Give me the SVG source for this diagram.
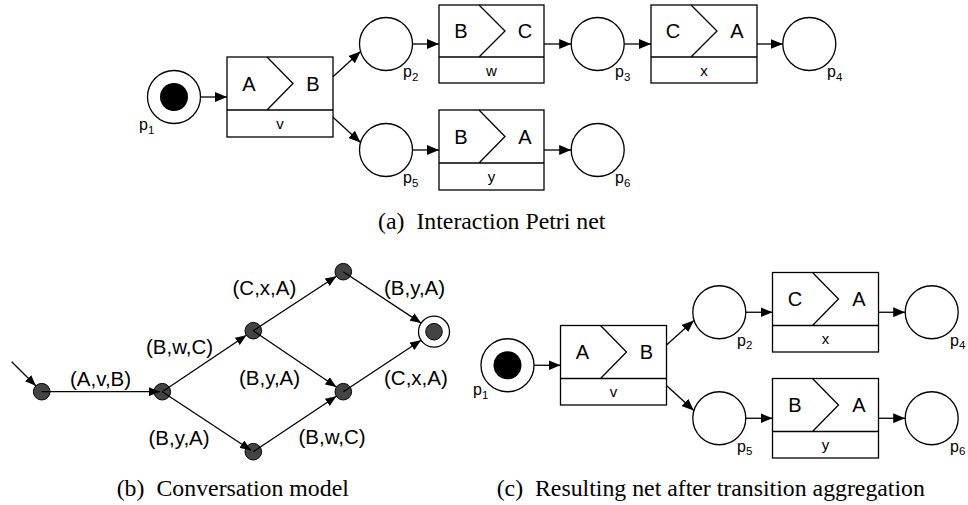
<svg xmlns="http://www.w3.org/2000/svg" width="968" height="505" viewBox="0 0 968 505">
<defs>
<marker id="ah" markerUnits="userSpaceOnUse" markerWidth="12" markerHeight="10" viewBox="0 0 11 9" refX="11" refY="4.5" orient="auto"><path d="M0,0 L11,4.5 L0,9 z" fill="#000"/></marker>
<marker id="ahb" markerUnits="userSpaceOnUse" markerWidth="11" markerHeight="9" viewBox="0 0 10 8" refX="10" refY="4" orient="auto"><path d="M0,0 L10,4 L0,8 z" fill="#000"/></marker>
</defs>
<style>
.ln{stroke:#000;stroke-width:1.3;fill:none;marker-end:url(#ah)}
.lb{stroke:#000;stroke-width:1.3;fill:none;marker-end:url(#ahb)}
.pl{fill:#fff;stroke:#000;stroke-width:1.3}
.tk{fill:#000}
.bx{fill:#fff;stroke:#000;stroke-width:1.3}
.sl{fill:none;stroke:#000;stroke-width:1.3}
.big{font-family:"Liberation Sans",Arial,sans-serif;font-size:20px;text-anchor:middle;fill:#000}
.sm{font-family:"Liberation Sans",Arial,sans-serif;font-size:15px;text-anchor:middle;fill:#000}
.pt{font-family:"Liberation Sans",Arial,sans-serif;font-size:16px;fill:#000}
.sub{font-size:11.5px}
.el{font-family:"Liberation Sans",Arial,sans-serif;font-size:20.5px;fill:#000}
.st{fill:#444;stroke:#000;stroke-width:1}
.fo{fill:#fff;stroke:#000;stroke-width:1.3}
.cap{font-family:"Liberation Serif","Times New Roman",serif;font-size:23.8px;fill:#000}
</style>

<!-- (a) Interaction Petri net -->
<g id="a_p1"><circle class="pl" cx="174" cy="97" r="26.5"/><circle class="tk" cx="174" cy="97" r="14"/><text class="pt" x="139" y="130">p<tspan class="sub" dy="3.5">1</tspan></text></g>
<g id="a_v"><rect class="bx" x="227" y="57" width="106" height="80"/><path class="sl" d="M227,110 H333 M267,57 L293,83.5 L267,110"/><text class="big" x="249" y="91">A</text><text class="big" x="313" y="91">B</text><text class="sm" x="280" y="128.5">v</text></g>
<g id="a_p2"><circle class="pl" cx="386" cy="44" r="26.5"/><text class="pt" x="403" y="77">p<tspan class="sub" dy="3.5">2</tspan></text></g>
<g id="a_p5"><circle class="pl" cx="386" cy="150" r="26.5"/><text class="pt" x="403" y="183">p<tspan class="sub" dy="3.5">5</tspan></text></g>
<g id="a_w"><rect class="bx" x="439" y="5" width="105" height="78"/><path class="sl" d="M439,57 H544 M479,5 L505,31 L479,57"/><text class="big" x="461" y="38">B</text><text class="big" x="525" y="38">C</text><text class="sm" x="491.5" y="75.5">w</text></g>
<g id="a_p3"><circle class="pl" cx="597.7" cy="44" r="26.5"/><text class="pt" x="615" y="77">p<tspan class="sub" dy="3.5">3</tspan></text></g>
<g id="a_x"><rect class="bx" x="651" y="5" width="106" height="78"/><path class="sl" d="M651,57 H757 M691,5 L717,31 L691,57"/><text class="big" x="673" y="38">C</text><text class="big" x="737" y="38">A</text><text class="sm" x="704" y="75.5">x</text></g>
<g id="a_p4"><circle class="pl" cx="809.3" cy="44" r="26.5"/><text class="pt" x="827" y="77">p<tspan class="sub" dy="3.5">4</tspan></text></g>
<g id="a_y"><rect class="bx" x="439" y="110" width="105" height="80"/><path class="sl" d="M439,163 H544 M479,110 L505,136.5 L479,163"/><text class="big" x="461" y="144">B</text><text class="big" x="525" y="144">A</text><text class="sm" x="491.5" y="181.5">y</text></g>
<g id="a_p6"><circle class="pl" cx="597.7" cy="150" r="26.5"/><text class="pt" x="615" y="183">p<tspan class="sub" dy="3.5">6</tspan></text></g>
<g id="a_conn">
<line class="ln" x1="200.5" y1="97" x2="227" y2="97"/>
<line class="ln" x1="333" y1="76.7" x2="360.5" y2="51.5"/>
<line class="ln" x1="333" y1="117.3" x2="360.5" y2="142.5"/>
<line class="ln" x1="412.5" y1="44" x2="439" y2="44"/>
<line class="ln" x1="544" y1="44" x2="571.2" y2="44"/>
<line class="ln" x1="624.2" y1="44" x2="651" y2="44"/>
<line class="ln" x1="757" y1="44" x2="782.8" y2="44"/>
<line class="ln" x1="412.5" y1="150" x2="439" y2="150"/>
<line class="ln" x1="544" y1="150" x2="571.2" y2="150"/>
</g>
<text class="cap" y="229"><tspan x="378">(a)</tspan><tspan x="416.4">Interaction Petri net</tspan></text>

<!-- (b) Conversation model -->
<g id="b_s1"><circle class="st" cx="41.7" cy="391.7" r="8.3"/></g>
<g id="b_s2"><circle class="st" cx="162.3" cy="391.7" r="8.3"/></g>
<g id="b_s3"><circle class="st" cx="253.3" cy="330.7" r="8.3"/></g>
<g id="b_s4"><circle class="st" cx="253.3" cy="451.7" r="8.3"/></g>
<g id="b_s5"><circle class="st" cx="343.3" cy="271.7" r="8.3"/></g>
<g id="b_s6"><circle class="st" cx="343.3" cy="391.7" r="8.3"/></g>
<g id="b_s7"><circle class="fo" cx="434" cy="331.7" r="15.5"/><circle class="st" cx="434" cy="331.7" r="8.3"/></g>
<g id="b_conn">
<line class="lb" x1="11.7" y1="361.7" x2="35.8" y2="385.8"/>
<line class="lb" x1="41.7" y1="391.7" x2="160" y2="391.7"/>
<line class="lb" x1="162.3" y1="391.7" x2="246.4" y2="335.3"/>
<line class="lb" x1="162.3" y1="391.7" x2="251" y2="450.2"/>
<line class="lb" x1="253.3" y1="330.7" x2="336.4" y2="276.2"/>
<line class="lb" x1="253.3" y1="330.7" x2="336.4" y2="387"/>
<line class="lb" x1="253.3" y1="451.7" x2="336.4" y2="396.3"/>
<line class="lb" x1="343.3" y1="271.7" x2="421.1" y2="323.1"/>
<line class="lb" x1="343.3" y1="391.7" x2="421.1" y2="340.3"/>
</g>
<g id="b_labels">
<text class="el" x="70" y="386">(A,v,B)</text>
<text class="el" x="146" y="354">(B,w,C)</text>
<text class="el" x="148.5" y="445">(B,y,A)</text>
<text class="el" x="232.5" y="295">(C,x,A)</text>
<text class="el" x="239" y="385">(B,y,A)</text>
<text class="el" x="298.5" y="444">(B,w,C)</text>
<text class="el" x="384" y="295">(B,y,A)</text>
<text class="el" x="384" y="385">(C,x,A)</text>
</g>
<text class="cap" y="496"><tspan x="116.7">(b)</tspan><tspan x="156.5">Conversation model</tspan></text>

<!-- (c) Resulting net -->
<g id="c_p1"><circle class="pl" cx="507.5" cy="365.25" r="26.5"/><circle class="tk" cx="507.5" cy="365.25" r="14"/><text class="pt" x="473" y="395">p<tspan class="sub" dy="3.5">1</tspan></text></g>
<g id="c_v"><rect class="bx" x="560.5" y="325.5" width="106" height="79.5"/><path class="sl" d="M560.5,378.5 H666.5 M600.5,325.5 L626.5,352 L600.5,378.5"/><text class="big" x="582.5" y="359">A</text><text class="big" x="646.5" y="359">B</text><text class="sm" x="613.5" y="396.5">v</text></g>
<g id="c_p2"><circle class="pl" cx="719.3" cy="312.25" r="26.5"/><text class="pt" x="737" y="345.5">p<tspan class="sub" dy="3.5">2</tspan></text></g>
<g id="c_p5"><circle class="pl" cx="719.3" cy="418.25" r="26.5"/><text class="pt" x="737" y="451.5">p<tspan class="sub" dy="3.5">5</tspan></text></g>
<g id="c_x"><rect class="bx" x="772.5" y="272.5" width="106" height="79.5"/><path class="sl" d="M772.5,325.5 H878.5 M812.5,272.5 L838.5,299 L812.5,325.5"/><text class="big" x="795" y="306">C</text><text class="big" x="859" y="306">A</text><text class="sm" x="825.5" y="343.5">x</text></g>
<g id="c_y"><rect class="bx" x="772.5" y="378.5" width="106" height="79.5"/><path class="sl" d="M772.5,431.5 H878.5 M812.5,378.5 L838.5,405 L812.5,431.5"/><text class="big" x="795" y="412">B</text><text class="big" x="859" y="412">A</text><text class="sm" x="825.5" y="449.5">y</text></g>
<g id="c_p4"><circle class="pl" cx="931.7" cy="312.25" r="26.5"/><text class="pt" x="950" y="345.5">p<tspan class="sub" dy="3.5">4</tspan></text></g>
<g id="c_p6"><circle class="pl" cx="931.7" cy="418.25" r="26.5"/><text class="pt" x="950" y="451.5">p<tspan class="sub" dy="3.5">6</tspan></text></g>
<g id="c_conn">
<line class="ln" x1="534" y1="365.25" x2="560.5" y2="365.25"/>
<line class="ln" x1="666.5" y1="345" x2="693.8" y2="320.5"/>
<line class="ln" x1="666.5" y1="385.5" x2="693.8" y2="410.5"/>
<line class="ln" x1="745.8" y1="312.25" x2="772.5" y2="312.25"/>
<line class="ln" x1="878.5" y1="312.25" x2="905.2" y2="312.25"/>
<line class="ln" x1="745.8" y1="418.25" x2="772.5" y2="418.25"/>
<line class="ln" x1="878.5" y1="418.25" x2="905.2" y2="418.25"/>
</g>
<text class="cap" y="496"><tspan x="496.7">(c)</tspan><tspan x="535">Resulting net after transition aggregation</tspan></text>
</svg>
